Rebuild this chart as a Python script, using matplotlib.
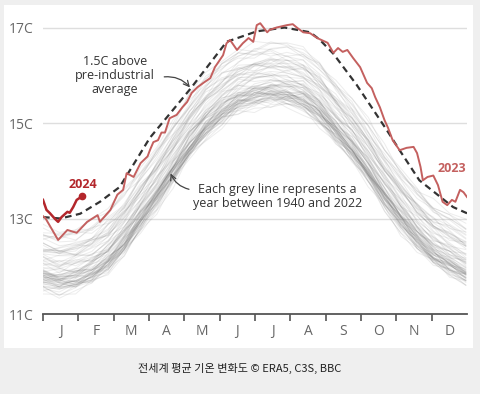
import numpy as np
import matplotlib
matplotlib.use("Agg")
from matplotlib import pyplot as plt
from matplotlib.patches import Rectangle

plt.rcParams['font.family'] = ['Open Sans', 'Noto Sans CJK KR', 'DejaVu Sans']

# month labels / ticks
months = ['J', 'F', 'M', 'A', 'M', 'J', 'J', 'A', 'S', 'O', 'N', 'D']
y_ticks = [11, 13, 15, 17]
y_labels = ['11C', '13C', '15C', '17C']

# grey lines: mean seasonal cycle 1940-2022 (every 14 days), yearly offsets, wiggles
grey_days = list(range(0, 365, 14))
grey_clim = [12.10, 12.05, 12.08, 12.22, 12.50, 12.88, 13.35, 13.82, 14.35,
             14.87, 15.28, 15.60, 15.82, 15.95, 16.00, 15.97, 15.85, 15.60,
             15.22, 14.80, 14.32, 13.82, 13.35, 12.95, 12.65, 12.40, 12.22]
years = list(range(1940, 2023))
year_offset = [-0.30, -0.25, -0.35, -0.33, -0.22, -0.30, -0.45, -0.42, -0.45, -0.48,
               -0.58, -0.45, -0.42, -0.35, -0.52, -0.55, -0.60, -0.40, -0.35, -0.40,
               -0.42, -0.38, -0.40, -0.38, -0.58, -0.52, -0.45, -0.45, -0.48, -0.35,
               -0.40, -0.50, -0.40, -0.28, -0.50, -0.45, -0.52, -0.30, -0.33, -0.25,
               -0.18, -0.15, -0.28, -0.12, -0.28, -0.30, -0.22, -0.10, -0.08, -0.18,
               -0.02, -0.05, -0.22, -0.18, -0.10, 0.02, -0.05, 0.10, 0.28, 0.02,
               0.02, 0.15, 0.22, 0.22, 0.18, 0.30, 0.25, 0.25, 0.12, 0.25,
               0.35, 0.22, 0.28, 0.32, 0.38, 0.52, 0.68, 0.58, 0.50, 0.62,
               0.65, 0.50, 0.55]
wig_a = [
    [0.05, -0.03, 0.08, 0.02, -0.06, -0.10, -0.02, 0.06, 0.09, 0.01, -0.05, -0.08, 0.00, 0.07, 0.04, -0.03, -0.09, -0.04, 0.05, 0.10, 0.03, -0.04, -0.07, 0.02, 0.08, 0.03, -0.02],
    [-0.08, -0.02, 0.04, 0.09, 0.05, -0.03, -0.08, -0.04, 0.03, 0.08, 0.06, -0.02, -0.09, -0.05, 0.02, 0.07, 0.09, 0.01, -0.06, -0.08, -0.01, 0.05, 0.08, 0.04, -0.03, -0.07, -0.05],
    [0.10, 0.06, -0.01, -0.07, -0.09, -0.02, 0.05, 0.08, 0.02, -0.04, -0.09, -0.06, 0.03, 0.09, 0.07, 0.00, -0.06, -0.09, -0.03, 0.04, 0.09, 0.06, -0.02, -0.08, -0.05, 0.02, 0.07],
    [0.00, 0.07, 0.09, 0.03, -0.05, -0.08, 0.01, 0.07, -0.02, -0.08, -0.03, 0.06, 0.09, 0.02, -0.07, -0.05, 0.04, 0.08, 0.01, -0.06, -0.09, -0.02, 0.06, 0.09, 0.01, -0.05, -0.03],
    [-0.04, -0.09, -0.05, 0.03, 0.08, 0.06, -0.03, -0.09, -0.06, 0.02, 0.09, 0.05, -0.02, -0.08, -0.04, 0.05, 0.02, -0.05, -0.02, 0.07, 0.06, -0.03, -0.09, -0.05, 0.04, 0.09, 0.06],
    [0.06, 0.01, -0.06, -0.04, 0.02, 0.09, 0.07, -0.01, -0.08, -0.07, 0.00, 0.08, 0.06, -0.03, -0.09, 0.01, 0.08, 0.05, -0.04, -0.03, 0.05, 0.09, 0.03, -0.06, -0.08, -0.02, 0.04],
]
wig_b = [
    [0.03, -0.05, 0.04, -0.02, 0.06, -0.04, 0.02, -0.06, 0.05, 0.00, -0.04, 0.06, -0.03, 0.02, -0.05, 0.04, -0.01, 0.05, -0.06, 0.03, -0.02, 0.04, -0.05, 0.06, -0.03, 0.01, -0.04],
    [-0.04, 0.05, -0.01, 0.06, -0.05, 0.02, -0.03, 0.04, -0.06, 0.05, 0.01, -0.04, 0.06, -0.05, 0.03, -0.02, 0.05, -0.06, 0.02, -0.04, 0.06, -0.03, 0.04, -0.01, 0.05, -0.06, 0.03],
    [0.06, 0.00, -0.05, 0.03, -0.02, 0.05, -0.06, 0.01, 0.04, -0.05, 0.06, -0.02, 0.01, -0.06, 0.05, 0.03, -0.04, 0.02, 0.06, -0.05, 0.00, -0.06, 0.03, 0.05, -0.02, 0.04, -0.05],
    [-0.02, 0.04, 0.06, -0.05, 0.01, -0.06, 0.05, 0.03, -0.02, -0.04, 0.05, 0.02, -0.06, 0.04, 0.00, -0.05, 0.06, -0.03, -0.01, 0.05, -0.04, 0.02, 0.06, -0.05, -0.03, 0.04, 0.01],
    [0.01, -0.06, 0.02, 0.05, -0.04, 0.03, 0.06, -0.05, -0.01, 0.04, -0.03, -0.06, 0.05, 0.01, 0.06, -0.04, -0.02, 0.04, -0.05, 0.06, 0.02, -0.05, 0.00, 0.03, -0.06, 0.05, -0.02],
]

# 1.5C above pre-industrial average
avg_days = [0, 15, 32, 49, 66, 92, 107, 127, 158, 184, 208, 230, 238, 250, 270, 296, 307, 324, 353, 365]
avg_vals = [13.03, 13.00, 13.10, 13.35, 13.66, 14.69, 15.13, 15.72, 16.70, 16.92,
            17.00, 16.90, 16.75, 16.45, 15.80, 14.85, 14.43, 13.80, 13.24, 13.11]

# 2023 daily series
days_2023 = [0, 2, 8, 13, 21, 29, 38, 47, 49, 58, 64, 69, 72, 78, 84, 90, 92, 95, 99,
             102, 105, 109, 115, 120, 124, 128, 133, 138, 144, 148, 155, 158, 161, 167,
             172, 177, 181, 184, 187, 193, 195, 201, 210, 215, 219, 224, 230, 236, 245,
             250, 254, 258, 262, 267, 273, 279, 283, 286, 290, 294, 297, 301, 307, 313,
             319, 322, 325, 327, 331, 336, 340, 344, 348, 352, 355, 359, 362, 365]
vals_2023 = [13.05, 13.01, 12.76, 12.55, 12.76, 12.70, 12.93, 13.07, 12.93, 13.18, 13.50,
             13.60, 13.95, 13.87, 14.16, 14.30, 14.43, 14.60, 14.64, 14.80, 14.80, 15.10,
             15.17, 15.33, 15.44, 15.63, 15.75, 15.84, 15.94, 16.17, 16.42, 16.67, 16.74,
             16.53, 16.67, 16.78, 16.70, 17.05, 17.09, 16.90, 16.95, 17.00, 17.05, 17.07,
             16.99, 16.90, 16.88, 16.78, 16.68, 16.47, 16.57, 16.49, 16.53, 16.36, 16.17,
             15.84, 15.73, 15.54, 15.33, 15.06, 14.90, 14.64, 14.43, 14.48, 14.50, 14.37,
             14.08, 13.80, 13.87, 13.90, 13.70, 13.35, 13.28, 13.39, 13.35, 13.60, 13.55, 13.45]

# 2024 so far
days_2024 = [0, 3, 6, 10, 13, 16, 21, 23, 26, 29, 34]
vals_2024 = [13.39, 13.18, 13.11, 13.00, 12.93, 13.03, 13.14, 13.12, 13.24, 13.39, 13.47]

c2023 = '#c4605f'
c2024 = '#b3262b'

fig = plt.figure(figsize=(4.8, 3.94), dpi=100, facecolor='#efefef')
fig.patches.append(Rectangle((4 / 480, 46 / 394), 469 / 480, 343 / 394,
                             transform=fig.transFigure, facecolor='white',
                             edgecolor='none', zorder=-10))
ax = fig.add_axes([43 / 480, 80 / 394, 424 / 480, 300.8 / 394])
ax.set_facecolor('none')

for i, yr in enumerate(years):
    y = np.array(grey_clim) + year_offset[i] + np.array(wig_a[i % 6]) + np.array(wig_b[i % 5])
    ax.plot(grey_days, y, color='#6a6a6a', alpha=0.12, lw=0.7, zorder=2)

ax.plot(avg_days, avg_vals, color='#333333', lw=1.6, dashes=(3, 2), zorder=4)
ax.plot(days_2023, vals_2023, color=c2023, lw=1.4, zorder=5)
ax.plot(days_2024, vals_2024, color=c2024, lw=1.8, zorder=6)
ax.plot(days_2024[-1], vals_2024[-1], 'o', color=c2024, ms=4.5, zorder=6)

ax.set_xlim(0, 365)
ax.set_ylim(11, 17.3)

for v in y_ticks[1:]:
    ax.axhline(v, color='#dedede', lw=1, zorder=1)

month_len = 365 / 12
ax.set_xticks([k * month_len for k in range(12)])
ax.set_xticklabels([])
ax.set_xticks([k * month_len + month_len / 2 for k in range(12)], minor=True)
ax.set_xticklabels(months, minor=True)
ax.tick_params(axis='x', which='major', length=5, width=1.2, color='#555555', direction='out')
ax.tick_params(axis='x', which='minor', length=0, pad=7, labelsize=10, labelcolor='#666666')

ax.set_yticks(y_ticks)
ax.set_yticklabels(y_labels)
ax.tick_params(axis='y', length=0, pad=7, labelsize=10, labelcolor='#666666')

for s in ['top', 'right', 'left']:
    ax.spines[s].set_visible(False)
ax.spines['bottom'].set_color('#555555')
ax.spines['bottom'].set_linewidth(1.3)

ax.text(62, 16.0, '1.5C above\npre-industrial\naverage', ha='center', va='center',
        fontsize=9, color='#333333', linespacing=1.1)
ax.annotate('', xy=(128, 15.7), xytext=(102, 15.96),
            arrowprops=dict(arrowstyle='->', color='#444444', lw=0.9,
                            connectionstyle='arc3,rad=-0.3'))

ax.text(202, 13.47, 'Each grey line represents a\nyear between 1940 and 2022', ha='center',
        va='center', fontsize=9, color='#333333', linespacing=1.1)
ax.annotate('', xy=(109, 14.0), xytext=(128, 13.6),
            arrowprops=dict(arrowstyle='->', color='#444444', lw=0.9,
                            connectionstyle='arc3,rad=-0.3'))

ax.text(34, 13.72, '2024', ha='center', va='center', fontsize=9, fontweight='bold', color=c2024)
ax.text(352, 14.04, '2023', ha='center', va='center', fontsize=9, fontweight='bold', color=c2023)

fig.text(0.5, 1 - 368 / 394, '전세계 평균 기온 변화도 © ERA5, C3S, BBC', ha='center', va='center',
         fontsize=8, color='#222222', family=['Noto Sans CJK KR', 'DejaVu Sans'])

fig.savefig('out.png', dpi=100, facecolor=fig.get_facecolor())
